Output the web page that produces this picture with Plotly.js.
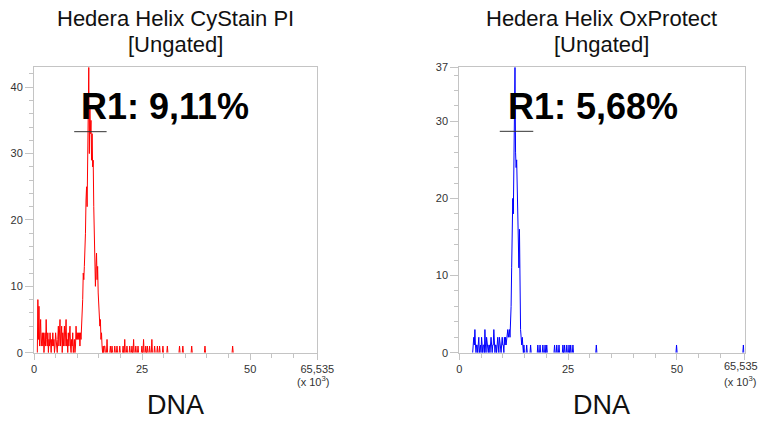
<!DOCTYPE html>
<html>
<head>
<meta charset="utf-8">
<script src="https://cdn.plot.ly/plotly-3.0.1.min.js"></script>
<style>html,body{margin:0;padding:0;background:#fff;}#chart{width:760px;height:421px;}</style>
</head>
<body>
<div id="chart"></div>
<script>
// ---- data ----
const channelCount = 512;          // histogram channels over the full scale
const fullScale = 65.535;          // x 10^3
const panelTitles = ["Hedera Helix CyStain PI", "Hedera Helix OxProtect"];
const panelSubtitle = "[Ungated]";
const regionLabels = ["R1: 9,11%", "R1: 5,68%"];
const axisLabel = "DNA";
const xTickVals = [0, 25, 50, 65.535];
const xTickText = ["0", "25", "50", "65,535"];
const leftYTicks = [0, 10, 20, 30, 40];
const rightYTicks = [0, 10, 20, 30, 37];
const leftYMax = 43;
const rightYMax = 37;

// CyStain PI: dense counts starting at channel 7
const leftStart = 7;
const leftCounts = [
  8,2,7,1,3,5,1,2,3,1, 3,0,2,3,1,5,2,1,3,0, 2,1,3,1,0,2,1,3,1,2, 0,1,3,2,1,0,2,4,1,3,
  5,1,2,4,0,3,1,2,4,1, 3,5,1,2,0,3,1,2,4,1, 0,2,1,3,0,1,2,0,1,4, 2,3,2,3,2,3,1,3,2,4,
  5,8,12,11,13,15,18,23,25,22, 27,34,43,30,37,33,35,29,33,28, 29,22,18,14,10,13,15,11,13,9,
  7,6,4,5,2,3,1,0,1,0, 1,1,0
];
// isolated events further out (x 10^3) and their counts
const leftEventX = [16.9,17.6,18.0,18.7,19.2,19.9,20.6,21.0,21.5,22.2,22.6,23.1,23.6,24.0,24.9,25.4,25.9,26.3,26.8,27.3,27.9,28.6,29.1,29.8,30.9,33.7,34.4,36.5,39.5,46.0];
const leftEventN = [2,1,1,1,1,1,1,2,1,1,1,2,1,1,1,2,1,1,1,2,1,1,1,1,1,1,1,1,1,1];

// OxProtect: dense counts starting at channel 25
const rightStart = 25;
const rightCounts = [
  1,2,1,3,1,0,1,1,0,1, 2,0,1,1,0,2,1,0,1,1, 0,3,1,0,2,1,1,0,1,1, 0,1,2,1,0,1,1,3,1,0,
  1,1,0,1,2,1,0,2,1,1, 0,1,2,1,1,0,2,1,2,1, 2,2,
  3,2,3,3,2,4,6,11,15,20, 18,28,29,37,26,24,25,21,20,17, 11,16,5,3,2,1,2,1,0,1, 0
];
const rightEventX = [15.5,16.4,18.05,18.5,19.2,19.7,20.1,21.9,22.4,22.9,23.8,24.2,24.7,25.2,25.6,26.1,31.5,49.9,65.3];
const rightEventN = [1,1,1,1,1,1,1,1,1,1,1,1,1,1,1,1,1,1,1];

// R1 gate markers: [x from, x to, y level]
const leftGate = [9.3, 16.8, 33.3];
const rightGate = [9.3, 17.0, 28.7];

// ---- build histograms ----
function buildSeries(start, counts, evX, evN) {
  const bw = fullScale / channelCount;
  const arr = new Array(channelCount).fill(0);
  counts.forEach((c, i) => { arr[start + i] += c; });
  evX.forEach((x, i) => {
    const ch = Math.min(channelCount - 1, Math.round(x / bw));
    arr[ch] += evN[i];
  });
  const xs = [], ys = [];
  for (let i = 0; i < channelCount; i++) {
    const prev = i > 0 ? arr[i - 1] : 0;
    const next = i < channelCount - 1 ? arr[i + 1] : 0;
    xs.push(i * bw);
    if (arr[i] === 0 && prev === 0 && next === 0) ys.push(null);
    else ys.push(arr[i]);
  }
  return {xs, ys};
}
const L = buildSeries(leftStart, leftCounts, leftEventX, leftEventN);
const R = buildSeries(rightStart, rightCounts, rightEventX, rightEventN);

const W = 760, H = 421;
const px = v => v / W, py = v => (H - v) / H;

const xMinor = [];
for (let v = 5; v < 65; v += 5) if (xTickVals.indexOf(v) < 0) xMinor.push(v);
const yMinor = m => { const a = []; for (let v = 2; v <= m; v += 2) if (v % 10 !== 0) a.push(v); return a; };

const font = "Arial, 'Liberation Sans', sans-serif";
const lineCol = '#c4c4c4';
const tickFont = {family: font, size: 11, color: '#333'};
function xAxis(domain, anchor, ticktext) {
  return {
    domain, anchor, range: [0, fullScale], tickmode: 'array', tickvals: xTickVals, ticktext: ticktext,
    ticks: 'outside', ticklen: 6, tickwidth: 1, tickcolor: lineCol,
    showline: true, linecolor: lineCol, linewidth: 1, mirror: true,
    showgrid: false, zeroline: false, tickfont: tickFont,
    minor: {tickmode: 'array', tickvals: xMinor, ticks: 'outside', ticklen: 4, tickcolor: lineCol, showgrid: false},
    fixedrange: true
  };
}
function yAxis(domain, anchor, max, ticks) {
  return {
    domain, anchor, range: [0, max], tickmode: 'array', tickvals: ticks,
    ticks: 'outside', ticklen: 8, tickwidth: 1, tickcolor: lineCol,
    showline: true, linecolor: lineCol, linewidth: 1, mirror: true,
    showgrid: false, zeroline: false, tickfont: tickFont,
    minor: {tickmode: 'array', tickvals: yMinor(max), ticks: 'outside', ticklen: 4, tickcolor: lineCol, showgrid: false},
    fixedrange: true
  };
}

const yDom = [py(352.7), py(67.3)];
const traces = [
  {x: L.xs, y: L.ys, xaxis: 'x', yaxis: 'y', type: 'scatter', mode: 'lines', connectgaps: false,
   line: {color: '#ff0000', width: 1}, hoverinfo: 'skip'},
  {x: R.xs, y: R.ys, xaxis: 'x2', yaxis: 'y2', type: 'scatter', mode: 'lines', connectgaps: false,
   line: {color: '#0000ff', width: 1}, hoverinfo: 'skip'}
];

const ann = [];
const centers = [px((34 + 317.3) / 2), px((459.3 + 744.5) / 2)];
const r1Left = [px(79), px(506)];
const xlabX = [px(313), px(740)];
for (let i = 0; i < 2; i++) {
  ann.push({text: panelTitles[i], xref: 'paper', yref: 'paper', x: centers[i], y: py(18), xanchor: 'center', yanchor: 'middle',
    showarrow: false, font: {family: font, size: 22, color: '#111'}});
  ann.push({text: panelSubtitle, xref: 'paper', yref: 'paper', x: centers[i], y: py(44), xanchor: 'center', yanchor: 'middle',
    showarrow: false, font: {family: font, size: 22, color: '#111'}});
  ann.push({text: '<b>' + regionLabels[i] + '</b>', xref: 'paper', yref: 'paper', x: r1Left[i], y: py(107), xanchor: 'left', yanchor: 'middle',
    showarrow: false, font: {family: font, size: 36, color: '#000'}});
  ann.push({text: axisLabel, xref: 'paper', yref: 'paper', x: centers[i], y: py(405), xanchor: 'center', yanchor: 'middle',
    showarrow: false, font: {family: font, size: 27, color: '#111'}});
  ann.push({text: '(x 10<sup>3</sup>)', xref: 'paper', yref: 'paper', x: xlabX[i], y: py(381), xanchor: 'center', yanchor: 'middle',
    showarrow: false, font: tickFont});
}
// right panel's last tick label sits at the page edge: draw it as text so it is not dropped
ann.push({text: xTickText[3], xref: 'paper', yref: 'paper', x: 1, y: py(366), xanchor: 'right', yanchor: 'middle',
  showarrow: false, font: tickFont});

const shapes = [
  {type: 'line', xref: 'x', yref: 'y', x0: leftGate[0], x1: leftGate[1], y0: leftGate[2], y1: leftGate[2], line: {color: '#333', width: 1}},
  {type: 'line', xref: 'x2', yref: 'y2', x0: rightGate[0], x1: rightGate[1], y0: rightGate[2], y1: rightGate[2], line: {color: '#333', width: 1}}
];

const layout = {
  width: W, height: H, margin: {l: 0, r: 0, t: 0, b: 0},
  paper_bgcolor: '#fff', plot_bgcolor: '#fff', showlegend: false,
  xaxis: xAxis([px(34), px(317.3)], 'y', xTickText),
  yaxis: yAxis(yDom, 'x', leftYMax, leftYTicks),
  xaxis2: xAxis([px(459.3), px(744.5)], 'y2', [xTickText[0], xTickText[1], xTickText[2], '']),
  yaxis2: yAxis(yDom, 'x2', rightYMax, rightYTicks),
  annotations: ann, shapes: shapes
};
Plotly.newPlot('chart', traces, layout, {displayModeBar: false, staticPlot: true});
</script>
</body>
</html>
